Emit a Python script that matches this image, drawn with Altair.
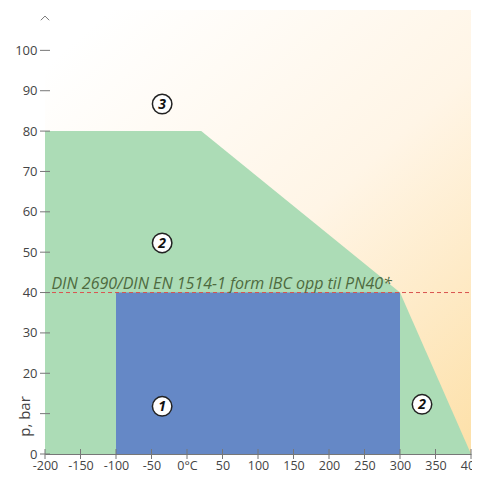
import altair as alt
import pandas as pd

# data
green_x = [-200, 20, 300, 400]
green_y = [80, 80, 40, 0]
blue_x = [-100, 300]
blue_y = [0, 40]
pn_line = 40
x_range = [-200, 400]
y_range = [0, 110]
x_ticks = [-200, -150, -100, -50, 0, 50, 100, 150, 200, 250, 300, 350, 400]
y_ticks = [0, 10, 20, 30, 40, 50, 60, 70, 80, 90, 100]
label_x = [-35, -35, -35, 331]
label_y = [86.7, 52.3, 11.8, 12.3]
label_txt = ["3", "2", "1", "2"]
note = "DIN 2690/DIN EN 1514-1 form IBC opp til PN40*"

W, H = 426, 444
FONT = "Open Sans"

xs = alt.Scale(domain=x_range, nice=False, zero=False)
ys = alt.Scale(domain=y_range, nice=False, zero=False)

x_axis = alt.Axis(values=x_ticks, ticks=False, grid=False, domainColor="#777",
                  labelExpr="datum.value == 0 ? '0°C' : replace(datum.label, '−', '-')",
                  labelFont=FONT, labelFontSize=12.5, labelColor="#444",
                  labelPadding=5, title=None, labelFlush=False, labelOverlap=False)
y_axis = alt.Axis(values=y_ticks, ticks=False, grid=False, domainColor="#777",
                  labelExpr="datum.value == 10 ? '' : datum.label",
                  labelFont=FONT, labelFontSize=13, labelColor="#444",
                  labelPadding=8, title="p, bar", titleFont=FONT,
                  titleFontSize=15, titleFontWeight="normal", titleColor="#444",
                  titleX=-21, titleY=406, titleAngle=270, titleAlign="center",
                  titleBaseline="middle", labelOverlap=False)

bg = pd.DataFrame({"x": [x_range[0]], "x2": [x_range[1]], "y": [y_range[0]], "y2": [y_range[1]]})
grad = alt.Gradient(gradient="linear",
                    stops=[alt.GradientStop(color="#ffffff", offset=0),
                           alt.GradientStop(color="#fff5e6", offset=0.5),
                           alt.GradientStop(color="#fde0a8", offset=1)],
                    x1=0.15, y1=0, x2=1, y2=1)
orange = alt.Chart(bg).mark_rect(color=grad).encode(
    x=alt.X("x:Q", scale=xs, axis=x_axis), x2="x2", y=alt.Y("y:Q", scale=ys, axis=y_axis), y2="y2")

gdf = pd.DataFrame({"x": green_x, "y": green_y})
green = alt.Chart(gdf).mark_area(color="#acdcb6", opacity=1).encode(
    x=alt.X("x:Q", scale=xs, axis=x_axis), y=alt.Y("y:Q", scale=ys, axis=y_axis))

bdf = pd.DataFrame({"x": [blue_x[0]], "x2": [blue_x[1]], "y": [blue_y[0]], "y2": [blue_y[1]]})
blue = alt.Chart(bdf).mark_rect(color="#6588c6").encode(
    x=alt.X("x:Q", scale=xs, axis=x_axis), x2="x2", y=alt.Y("y:Q", scale=ys, axis=y_axis), y2="y2")

rdf = pd.DataFrame({"x": [x_range[0]], "x2": [x_range[1]], "y": [pn_line]})
dash = alt.Chart(rdf).mark_rule(color="#d9534f", strokeDash=[4, 3], strokeWidth=1).encode(
    x=alt.X("x:Q", scale=xs, axis=x_axis), x2="x2", y=alt.Y("y:Q", scale=ys, axis=y_axis))

tdf = pd.DataFrame({"x": [-191], "y": [41], "t": [note]})
txt = alt.Chart(tdf).mark_text(align="left", baseline="alphabetic", font=FONT, fontSize=16,
                               fontStyle="italic", color="#4e6a3e").encode(
    x=alt.X("x:Q", scale=xs, axis=x_axis), y=alt.Y("y:Q", scale=ys, axis=y_axis), text="t:N")

ldf = pd.DataFrame({"x": label_x, "y": label_y, "t": label_txt})
circ = alt.Chart(ldf).mark_point(shape="circle", filled=True, fill="white", stroke="#222",
                                 strokeWidth=1.5, size=380, opacity=1).encode(
    x=alt.X("x:Q", scale=xs, axis=x_axis), y=alt.Y("y:Q", scale=ys, axis=y_axis))
num = alt.Chart(ldf).mark_text(font=FONT, fontSize=14, fontWeight="bold", fontStyle="italic",
                               color="#111", baseline="middle", dy=1).encode(
    x=alt.X("x:Q", scale=xs, axis=x_axis), y=alt.Y("y:Q", scale=ys, axis=y_axis), text="t:N")

ytdf = pd.DataFrame({"y": y_ticks})
yt = alt.Chart(ytdf).mark_rule(color="#777", strokeWidth=1).encode(
    y=alt.Y("y:Q", scale=ys, axis=y_axis), x=alt.value(-5), x2=alt.value(5))
xtdf = pd.DataFrame({"x": x_ticks})
xt = alt.Chart(xtdf).mark_rule(color="#777", strokeWidth=1).encode(
    x=alt.X("x:Q", scale=xs, axis=x_axis), y=alt.value(H - 5), y2=alt.value(H + 5))

adf = pd.DataFrame({"x": [x_range[0]], "y": [108.5]})
arrow = alt.Chart(adf).mark_point(shape="M-1,1L0,0L1,1", filled=False, stroke="#777",
                                  strokeWidth=1, size=70, opacity=1).encode(
    x=alt.X("x:Q", scale=xs, axis=x_axis), y=alt.Y("y:Q", scale=ys, axis=y_axis))

chart = alt.layer(orange, green, blue, dash, txt, circ, num, yt, xt, arrow).properties(
    width=W, height=H,
    autosize=alt.AutoSizeParams(type="none"),
    padding={"left": 37, "top": 2, "right": 1, "bottom": 20},
    background="white",
).configure_view(stroke=None).configure_axis(labelOverlap=False)

chart.save("out.html", embed_options={"renderer": "svg", "actions": False})
